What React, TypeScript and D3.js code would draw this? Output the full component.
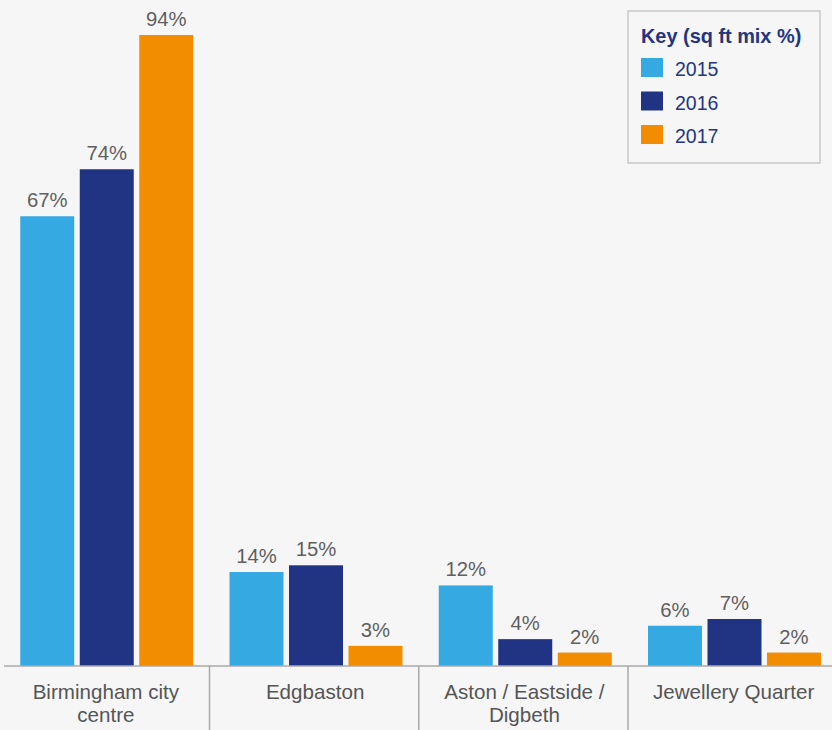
import React from "react";
import * as d3 from "d3";

const categories = ["Birmingham city centre", "Edgbaston", "Aston / Eastside / Digbeth", "Jewellery Quarter"];
const categoryLines = [["Birmingham city", "centre"], ["Edgbaston"], ["Aston / Eastside /", "Digbeth"], ["Jewellery Quarter"]];
const seriesNames = ["2015", "2016", "2017"];
const values2015 = [67, 14, 12, 6];
const values2016 = [74, 15, 4, 7];
const values2017 = [94, 3, 2, 2];
const seriesValues = [values2015, values2016, values2017];
const colors = ["#35a9e1", "#213383", "#f28c00"];
const legendTitle = "Key (sq ft mix %)";

const W = 832;
const H = 730;
const FONT = "'Liberation Sans', Arial, Helvetica, sans-serif";

export default function App() {
  const baseY = 666;
  const x0 = d3.scaleBand<string>().domain(categories).range([0.25, 837.25]).padding(0);
  const x1 = d3.scaleBand<string>().domain(seriesNames).range([20, 193]).paddingInner(0.0924).paddingOuter(0);
  const y = d3.scaleLinear().domain([0, 94]).range([baseY, 35]);

  return (
    <svg width={W} height={H} style={{ position: "absolute", left: 0, top: 0, display: "block" }} fontFamily={FONT}>
      <rect x={0} y={0} width={W} height={H} fill="#f6f6f6" />
      {categories.map((c, ci) => {
        const bx = x0(c)!;
        return (
          <g key={c}>
            {seriesNames.map((s, si) => {
              const v = seriesValues[si][ci];
              const xx = bx + x1(s)!;
              return (
                <g key={s}>
                  <rect x={xx} y={y(v)} width={x1.bandwidth()} height={baseY - y(v)} fill={colors[si]} />
                  <text x={xx + x1.bandwidth() / 2} y={y(v) - 9} textAnchor="middle" fontSize={20.3} fill="#5f5f5f">
                    {v + "%"}
                  </text>
                </g>
              );
            })}
            {categoryLines[ci].map((line, li) => (
              <text key={li} x={bx + x0.bandwidth() / 2 + 1} y={699 + li * 23} textAnchor="middle" fontSize={20.6} fill="#555">
                {line}
              </text>
            ))}
            {ci > 0 && <line x1={bx} x2={bx} y1={baseY} y2={H} stroke="#aaa" strokeWidth={1.5} />}
          </g>
        );
      })}
      <line x1={4} x2={W} y1={baseY} y2={baseY} stroke="#aaa" strokeWidth={1.5} />
      <g>
        <rect x={628} y={11} width={192} height={152} fill="#f6f6f6" stroke="#c8c8c8" strokeWidth={1.5} />
        <text x={641} y={42.5} fontSize={19.9} fontWeight="bold" fill="#233580">{legendTitle}</text>
        {seriesNames.map((s, si) => (
          <g key={s}>
            <rect x={641} y={58 + si * 33.5} width={22} height={19} fill={colors[si]} />
            <text x={675} y={76 + si * 33.5} fontSize={19.5} fill="#233580">{s}</text>
          </g>
        ))}
      </g>
    </svg>
  );
}
